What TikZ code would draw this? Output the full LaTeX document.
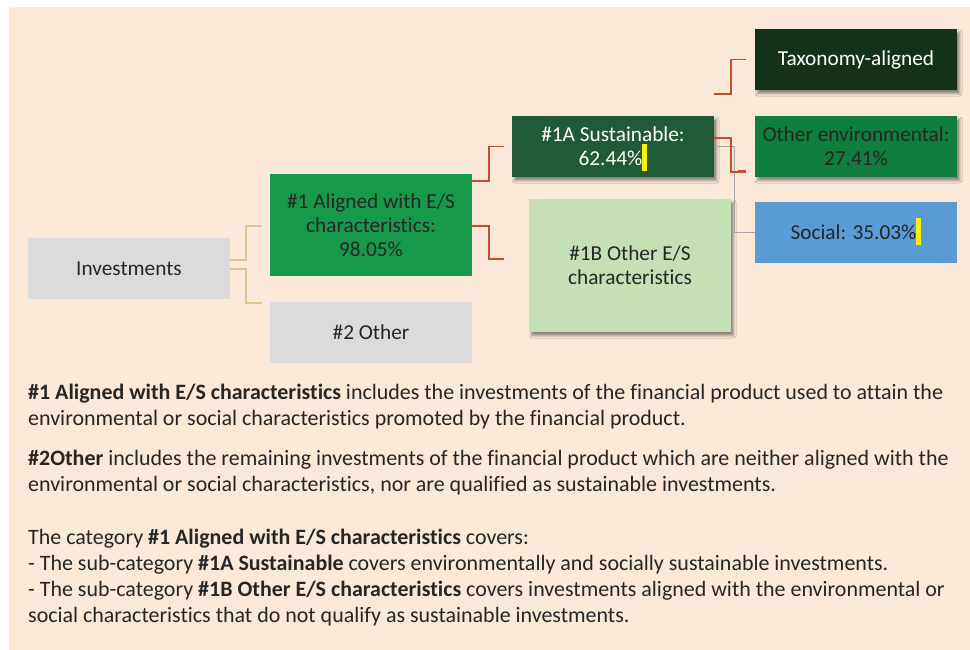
\documentclass[tikz,border=0pt]{standalone}
\usepackage{fontspec}
\setmainfont[Ligatures=NoCommon]{Carlito}
\usetikzlibrary{calc,shadows.blur}
\definecolor{bgc}{HTML}{FAE8D8}
\definecolor{grayb}{HTML}{DBDBDC}
\definecolor{green1}{HTML}{17994A}
\definecolor{green1a}{HTML}{215A38}
\definecolor{taxc}{HTML}{143219}
\definecolor{oenvc}{HTML}{0F7E3E}
\definecolor{lightg}{HTML}{C5E0B4}
\definecolor{socc}{HTML}{5B9BD5}
\definecolor{redl}{HTML}{C94A2C}
\definecolor{goldl}{HTML}{D6C98C}
\definecolor{grayl}{HTML}{A6A6A6}
\definecolor{txt}{HTML}{262626}
\definecolor{hl}{HTML}{FFF200}
\newcommand{\hlbar}{\smash{\textcolor{hl}{\rule[-5pt]{5pt}{27pt}}}}
\begin{document}
\begin{tikzpicture}[x=1pt,y=-1pt,
  box/.style={rectangle, anchor=north west, minimum width=202pt, minimum height=61pt,
    inner sep=1pt, outer sep=0pt, align=center, text=txt,
    font=\fontsize{21.3}{24}\selectfont},
  shad/.style={blur shadow={shadow xshift=2.5pt, shadow yshift=-3.5pt,
    shadow blur radius=2.5pt, shadow opacity=45}},
  goldline/.style={draw=goldl, line width=1.1pt},
  redline/.style={draw=redl, line width=1.3pt},
  grayline/.style={draw=grayl, line width=1pt},
  para/.style={anchor=base west, inner sep=0pt, align=left, text=txt,
    font=\fontsize{21.95}{26}\selectfont}]
\useasboundingbox (0,0) rectangle (970,650);
\fill[white] (0,0) rectangle (970,650);
\fill[bgc] (9,7) rectangle (970,650);

% nodes
\node[box, fill=grayb] (inv) at (28,238) {Investments};
\node[box, fill=green1, minimum height=102pt] (a1) at (270,174) {\#1 Aligned with E/S\\characteristics:\\98.05\%};
\node[box, fill=grayb] (oth) at (270,302) {\#2 Other};
\node[box, fill=green1a, text=white, shad] (s1a) at (512,116) {\#1A Sustainable:\\62.44\%\hlbar};
\node[box, fill=lightg, minimum height=133pt, shad] (s1b) at (529,199) {\#1B Other E/S\\characteristics};
\node[box, fill=taxc, text=white, shad] (tax) at (755,29) {Taxonomy-aligned};
\node[box, fill=oenvc, shad] (oenv) at (755,116) {Other environmental:\\27.41\%};
\node[box, fill=socc] (soc) at (755,202) {Social: 35.03\%\hlbar};

% connectors
\draw[goldline] ($(inv.east)+(0,-8.5)$) -- ++(16,0) |- ($(a1.west)+(-8,1)$);
\draw[goldline] ($(inv.east)+(0,0.5)$) -- ++(16,0) |- ($(oth.north west)+(-8,1)$);
\draw[redline] ($(a1.north east)+(0,7)$) -- ++(17,0) |- ($(s1a.west)+(-8,0)$);
\draw[redline] ($(a1.east)+(0,1)$) -- ++(17,0) |- ($(s1b.west)+(-25,-6.5)$);
\draw[grayline] ($(s1a.east)+(0,0.5)$) -- ++(20,0) |- (soc.west);
\draw[redline] ($(s1a.north east)+(0,-22)$) -- ++(17,0) |- ($(tax.west)+(-9,0)$);
\draw[redline] ($(s1a.east)+(0,-8.5)$) -- ++(17,0) |- ($(oenv.south west)+(-9,-5)$);
\draw[redl, line width=3pt] ($(oenv.south west)+(-17,-5)$) -- ($(oenv.south west)+(-9,-5)$);

% text (anchored at the baseline of the last line)
\node[para] (p1) at (28,425) {\textbf{\#1 Aligned with E/S characteristics} includes the investments of the financial product used to attain the\\environmental or social characteristics promoted by the financial product.};
\node[para] (p2) at (28,491) {\textbf{\#2Other} includes the remaining investments of the financial product which are neither aligned with the\\environmental or social characteristics, nor are qualified as sustainable investments.};
\node[para] (p3) at (28,622) {The category \textbf{\#1 Aligned with E/S characteristics} covers:\\- The sub-category \textbf{\#1A Sustainable} covers environmentally and socially sustainable investments.\\- The sub-category \textbf{\#1B Other E/S characteristics} covers investments aligned with the environmental or\\social characteristics that do not qualify as sustainable investments.};
\end{tikzpicture}
\end{document}
